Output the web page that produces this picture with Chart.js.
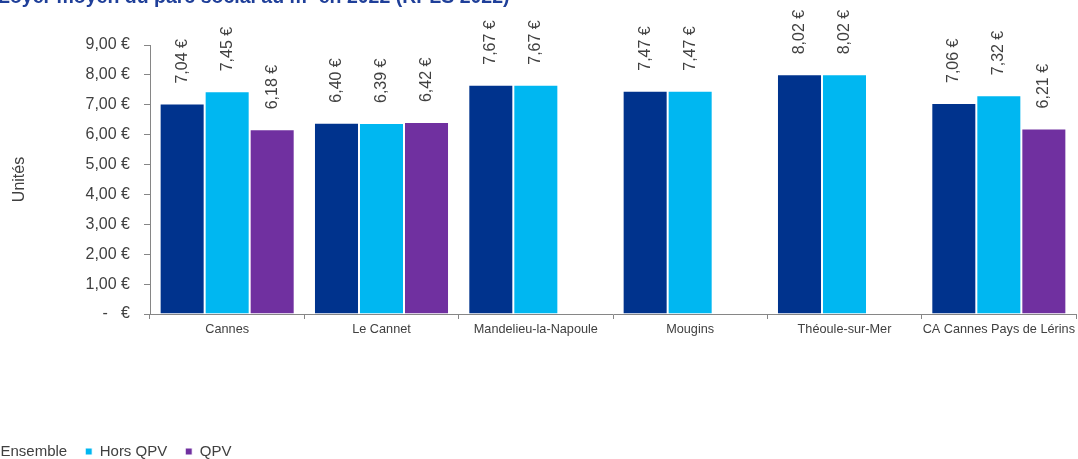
<!DOCTYPE html>
<html>
<head>
<meta charset="utf-8">
<script src="https://cdn.jsdelivr.net/npm/chart.js@4"></script>
<style>
  html, body { margin: 0; padding: 0; background: #fff; overflow: hidden; }
  #wrap { position: absolute; left: -32px; top: 0; width: 1110px; height: 480px; }
</style>
</head>
<body>
<div id="wrap"><canvas id="loyer-chart" width="1110" height="480"></canvas></div>
<script>
const chartTitle = "Loyer moyen du parc social au m² en 2022 (RPLS 2022)";
const communes = ["Cannes", "Le Cannet", "Mandelieu-la-Napoule", "Mougins", "Théoule-sur-Mer", "CA Cannes Pays de Lérins"];
const ensemble = [7.04, 6.40, 7.67, 7.47, 8.02, 7.06];
const horsQpv = [7.45, 6.39, 7.67, 7.47, 8.02, 7.32];
const qpv = [6.18, 6.42, null, null, null, 6.21];
const yTickLabels = ["-   €", "1,00 €", "2,00 €", "3,00 €", "4,00 €", "5,00 €", "6,00 €", "7,00 €", "8,00 €", "9,00 €"];

const euro = (v) => v.toFixed(2).replace(".", ",") + " €";

// titre dessiné à la main (coupé en haut comme dans l'original)
const titlePlugin = {
  id: "topTitle",
  afterDraw(chart) {
    const ctx = chart.ctx;
    ctx.save();
    ctx.font = "bold 19.5px 'Liberation Sans', Arial, sans-serif";
    ctx.fillStyle = "#1f3f99";
    ctx.textAlign = "left";
    ctx.textBaseline = "alphabetic";
    ctx.fillText(chartTitle, 30, 3);
    ctx.restore();
  }
};

// étiquettes de valeurs verticales au-dessus des barres
const valueLabels = {
  id: "valueLabels",
  afterDatasetsDraw(chart) {
    const ctx = chart.ctx;
    ctx.save();
    ctx.font = "16px 'Liberation Sans', Arial, sans-serif";
    ctx.fillStyle = "#404040";
    ctx.textAlign = "left";
    ctx.textBaseline = "middle";
    chart.data.datasets.forEach((ds, i) => {
      const meta = chart.getDatasetMeta(i);
      meta.data.forEach((bar, j) => {
        const v = ds.data[j];
        if (v === null || v === undefined) return;
        ctx.save();
        ctx.translate(bar.x, bar.y - 20);
        ctx.rotate(-Math.PI / 2);
        ctx.fillText(euro(v), 0, 0);
        ctx.restore();
      });
    });
    ctx.restore();
  }
};

new Chart("loyer-chart", {
  type: "bar",
  data: {
    labels: communes,
    datasets: [
      { label: "Ensemble", data: ensemble, backgroundColor: "#00338d", borderColor: "#ffffff", borderWidth: 1 },
      { label: "Hors QPV", data: horsQpv, backgroundColor: "#00b7f1", borderColor: "#ffffff", borderWidth: 1 },
      { label: "QPV", data: qpv, backgroundColor: "#7030a0", borderColor: "#ffffff", borderWidth: 1 },
    ]
  },
  options: {
    responsive: false,
    animation: false,
    datasets: { bar: { barPercentage: 1, categoryPercentage: 0.875 } },
    layout: { padding: { left: 0, right: 2, top: 45, bottom: 11 } },
    scales: {
      x: {
        grid: { drawOnChartArea: false, drawTicks: true, tickLength: 5, color: "#868686", offset: true },
        border: { color: "#868686", width: 1 },
        ticks: { color: "#404040", font: { family: "'Liberation Sans', Arial, sans-serif", size: 12.7 }, padding: 3, maxRotation: 0, autoSkip: false },
        afterFit(scale) {
          scale.height = 112;
          scale.paddingLeft = 0;
          scale.paddingRight = 0;
        }
      },
      y: {
        min: 0,
        max: 9,
        ticks: {
          stepSize: 1,
          color: "#404040",
          padding: 14,
          font: { family: "'Liberation Sans', Arial, sans-serif", size: 16 },
          callback: (v) => yTickLabels[Math.round(v)]
        },
        grid: { drawOnChartArea: false, drawTicks: true, tickLength: 6, color: "#868686" },
        border: { color: "#868686", width: 1 },
        title: {
          display: true,
          text: "Unités",
          color: "#404040",
          font: { family: "'Liberation Sans', Arial, sans-serif", size: 16 },
          padding: { top: 42, bottom: 0 }
        },
        afterFit(scale) { scale.width = 182; }
      }
    },
    plugins: {
      title: { display: false },
      tooltip: { enabled: false },
      legend: {
        position: "bottom",
        align: "start",
        labels: {
          boxWidth: 7,
          boxHeight: 7,
          padding: 18,
          color: "#404040",
          font: { family: "'Liberation Sans', Arial, sans-serif", size: 15 }
        }
      }
    }
  },
  plugins: [titlePlugin, valueLabels]
});
</script>
</body>
</html>
